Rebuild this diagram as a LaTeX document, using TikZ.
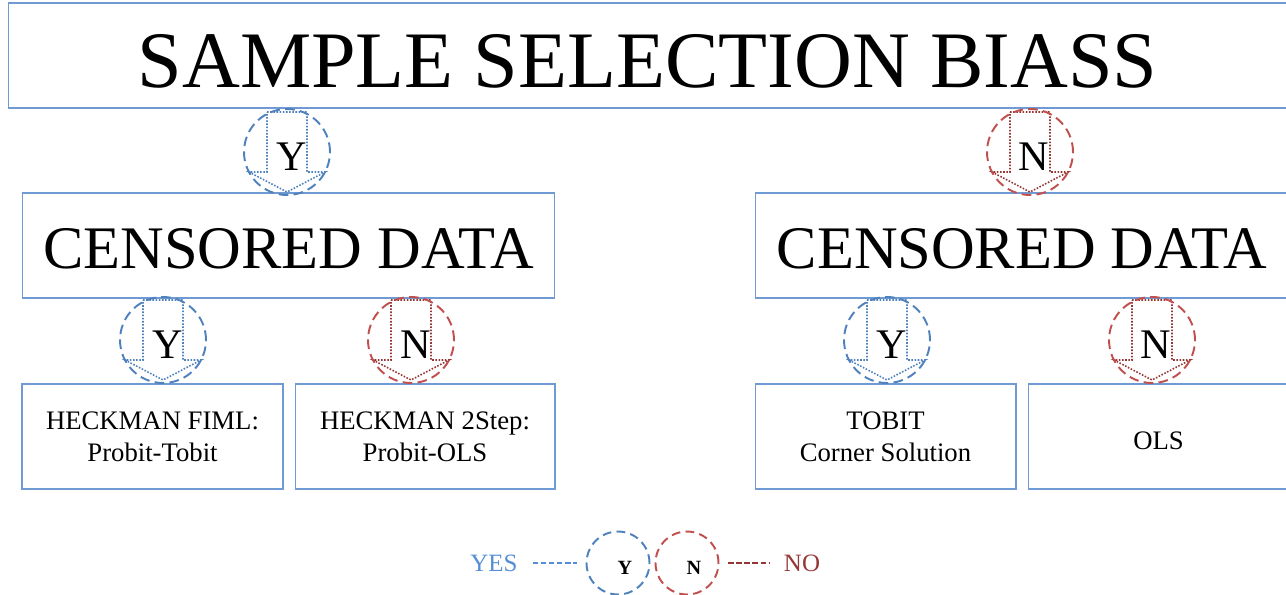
\documentclass[tikz,border=0pt]{standalone}
\usepackage{fontspec}
\setmainfont{Liberation Serif}
\definecolor{boxblue}{RGB}{111,154,211}
\definecolor{yesblue}{RGB}{79,129,189}
\definecolor{nored}{RGB}{192,80,77}
\definecolor{noarrowred}{RGB}{149,55,53}
\definecolor{yestext}{RGB}{85,142,213}
\begin{document}
\begin{tikzpicture}[x=0.02cm, y=-0.02cm,
  box/.style={rectangle, draw=boxblue, line width=0.6pt, inner sep=0pt, align=center},
  yescirc/.style={circle, draw=yesblue, line width=1.1pt, dash pattern=on 5.5pt off 3pt, minimum size=1.72cm, inner sep=0pt},
  nocirc/.style={yescirc, draw=nored},
  choice/.style={inner sep=0pt, font=\fontsize{24}{28}\selectfont},
  yesarrow/.style={draw=yesblue, line width=0.9pt, dash pattern=on 0.9pt off 0.9pt},
  noarrow/.style={draw=noarrowred, line width=0.9pt, dash pattern=on 0.9pt off 0.9pt},
  legcirc/.style={circle, line width=1.1pt, dash pattern=on 5pt off 3pt, minimum size=1.26cm, inner sep=0pt},
  legchoice/.style={inner sep=0pt, font=\fontsize{11.5}{14}\selectfont\bfseries},
  legline/.style={line width=0.7pt, dash pattern=on 3.2pt off 1.4pt, shorten <=5pt, shorten >=5pt}
]
\useasboundingbox (0,0) rectangle (1286,595);
% boxes
\node[box, minimum width=25.58cm, minimum height=2.1cm, text height=36.7pt, text depth=0pt, font=\fontsize{45.6}{50}\selectfont] at (647.5, 55.5) (title) {SAMPLE SELECTION BIASS};
\node[box, minimum width=10.66cm, minimum height=2.1cm, text height=26.5pt, text depth=0pt, font=\fontsize{34.4}{40}\selectfont] at (288.5, 245.5) (censl) {CENSORED DATA};
\node[box, minimum width=10.68cm, minimum height=2.1cm, text height=26.5pt, text depth=0pt, font=\fontsize{34.4}{40}\selectfont] at (1022, 245.5) (censr) {CENSORED DATA};
\node[box, minimum width=5.22cm, minimum height=2.1cm, text depth=-10pt, font=\fontsize{15.2}{18.2}\selectfont] at (152.5, 436.5) (fiml) {HECKMAN FIML:\\Probit-Tobit};
\node[box, minimum width=5.2cm, minimum height=2.1cm, text depth=-10pt, font=\fontsize{15.2}{18.2}\selectfont] at (425, 436.5) (twostep) {HECKMAN 2Step:\\Probit-OLS};
\node[box, minimum width=5.22cm, minimum height=2.1cm, text depth=-10pt, font=\fontsize{15.2}{18.2}\selectfont] at (885.5, 436.5) (tobit) {TOBIT\\Corner Solution};
\node[box, minimum width=5.22cm, minimum height=2.1cm, text height=14.6pt, text depth=0pt, font=\fontsize{15.2}{18.2}\selectfont] at (1158.5, 436.5) (ols) {OLS};
% yes / no arrows
\draw[yesarrow, shift={(287,152)}] (-20,-40) -- (20,-40) -- (20,20) -- (38,20) -- (0,40) -- (-38,20) -- (-20,20) -- cycle;
\draw[noarrow, shift={(1030,152)}] (-20,-40) -- (20,-40) -- (20,20) -- (38,20) -- (0,40) -- (-38,20) -- (-20,20) -- cycle;
\draw[yesarrow, shift={(163,340)}] (-20,-40) -- (20,-40) -- (20,20) -- (38,20) -- (0,40) -- (-38,20) -- (-20,20) -- cycle;
\draw[noarrow, shift={(411,340)}] (-20,-40) -- (20,-40) -- (20,20) -- (38,20) -- (0,40) -- (-38,20) -- (-20,20) -- cycle;
\draw[yesarrow, shift={(887,340)}] (-20,-40) -- (20,-40) -- (20,20) -- (38,20) -- (0,40) -- (-38,20) -- (-20,20) -- cycle;
\draw[noarrow, shift={(1152,340)}] (-20,-40) -- (20,-40) -- (20,20) -- (38,20) -- (0,40) -- (-38,20) -- (-20,20) -- cycle;
\node[yescirc] at (287, 152) (ytop) {};
\node[nocirc] at (1030, 152) (ntop) {};
\node[yescirc] at (163, 340) (yleft) {};
\node[nocirc] at (411, 340) (nleft) {};
\node[yescirc] at (887, 340) (yright) {};
\node[nocirc] at (1152, 340) (nright) {};
\node[choice] at (292, 157) (ytoptext) {Y};
\node[choice] at (1034, 157) (ntoptext) {N};
\node[choice] at (168, 345) (ylefttext) {Y};
\node[choice] at (416, 345) (nlefttext) {N};
\node[choice] at (892, 345) (yrighttext) {Y};
\node[choice] at (1156, 345) (nrighttext) {N};
% legend
\node[text=yestext, font=\fontsize{14.2}{17}\selectfont] at (494, 563) (yes) {YES};
\node[text=noarrowred, font=\fontsize{14.2}{17}\selectfont] at (802, 563) (no) {NO};
\node[legcirc, draw=yesblue] at (618, 563) (legy) {};
\node[legcirc, draw=nored] at (687, 563) (legn) {};
\node[legchoice] at (625, 568) (legytext) {Y};
\node[legchoice] at (694, 568) (legntext) {N};
\draw[legline, draw=yestext] (yes) -- (legy);
\draw[legline, draw=noarrowred] (legn) -- (no);
\end{tikzpicture}
\end{document}
